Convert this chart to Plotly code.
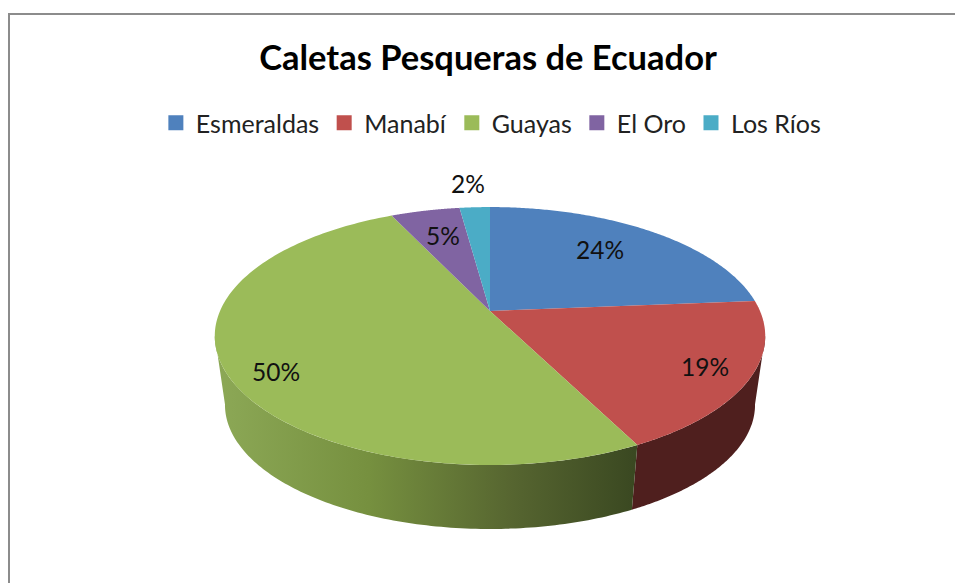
import numpy as np
import plotly.graph_objects as go

# ---- data ----
title = "Caletas Pesqueras de Ecuador"
provinces = ["Esmeraldas", "Manabí", "Guayas", "El Oro", "Los Ríos"]
shares = [23.7, 18.85, 50.4, 4.9, 2.15]

# ---- styles ----
top_colors = ["#4F81BD", "#C0504D", "#9BBB59", "#8064A2", "#4BACC6"]
FONT = "Lato"
# perspective disc: apex position, horizontal/vertical scale, foreshortening
CX, CY, B, A, K = 490, 311, 270, 124.1, 0.194
CY_LOW, B_LOW, A_LOW = 380.6, 260, 119.6
label_place = [(0.68, -3, -5), (0.84, 0, 0), (0.85, 8, 10), (0.80, 7, 7), (1.25, -4, -3)]


def project(r, t, cy=CY, a=A, b=B):
    u, v = r * np.cos(t), r * np.sin(t)
    d = 1 + K * u
    return CX + b * v / d, cy - a * u / d


total = sum(shares)
edges = np.cumsum([0] + shares) / total * 2 * np.pi
WALL_FROM, WALL_TO = np.radians(101), np.radians(259)

fig = go.Figure()

# side walls (only the near side of the disc can be seen)
wall_styles = [
    dict(fillcolor="#4F1F1E"),
    dict(fillgradient=dict(type="horizontal", start=225, stop=636,
                           colorscale=[[0, "#8BA755"], [0.35, "#76903F"], [0.7, "#566530"], [1, "#3A4821"]])),
]
for i, style in zip([1, 2], wall_styles):
    t = np.linspace(max(edges[i], WALL_FROM), min(edges[i + 1], WALL_TO), 120)
    xt, yt = project(1, t)
    xb, yb = project(1, t[::-1], CY_LOW, A_LOW, B_LOW)
    fig.add_trace(go.Scatter(x=np.r_[xt, xb], y=np.r_[yt, yb], mode="none",
                             fill="toself", showlegend=False, hoverinfo="skip", **style))

# top face
for i, name in enumerate(provinces):
    t = np.linspace(edges[i], edges[i + 1], 160)
    x, y = project(1, t)
    fig.add_trace(go.Scatter(x=np.r_[CX, x], y=np.r_[CY, y], mode="none", fill="toself",
                             fillcolor=top_colors[i], name=name, showlegend=False,
                             hovertemplate=f"{name}: {shares[i]:.0f}%<extra></extra>"))

# legend entries
for name, color in zip(provinces, top_colors):
    fig.add_trace(go.Scatter(x=[None], y=[None], mode="markers", name=name,
                             marker=dict(symbol="square", size=15, color=color)))

# percentage labels
annotations = []
for i, (r, dx, dy) in enumerate(label_place):
    x, y = project(r, (edges[i] + edges[i + 1]) / 2)
    annotations.append(dict(x=x, y=y, xshift=dx, yshift=-dy, text=f"{shares[i]:.0f}%", showarrow=False,
                            font=dict(family=FONT, size=24.5, color="#111111")))

frame = dict(type="path", path="M 9 583 L 9 14 L 955 14", xref="x", yref="y",
             line=dict(color="#8C8C8C", width=2))

fig.update_layout(
    width=955, height=583,
    margin=dict(l=0, r=0, t=0, b=0),
    paper_bgcolor="white", plot_bgcolor="white",
    xaxis=dict(range=[0, 955], visible=False, fixedrange=True),
    yaxis=dict(range=[583, 0], visible=False, fixedrange=True),
    title=dict(text=f"<b>{title}</b>", x=0.511, xanchor="center", y=0.9, yanchor="middle",
               font=dict(family=FONT, size=34.5, color="#000000")),
    legend=dict(orientation="h", x=0.514, xanchor="center", y=0.789, yanchor="middle",
                font=dict(family=FONT, size=25, color="#222222"),
                itemwidth=30, bgcolor="rgba(0,0,0,0)"),
    shapes=[frame],
    annotations=annotations,
)

fig.write_html("out.html", config={"displayModeBar": False},
               post_script="document.body.style.margin='0';")
